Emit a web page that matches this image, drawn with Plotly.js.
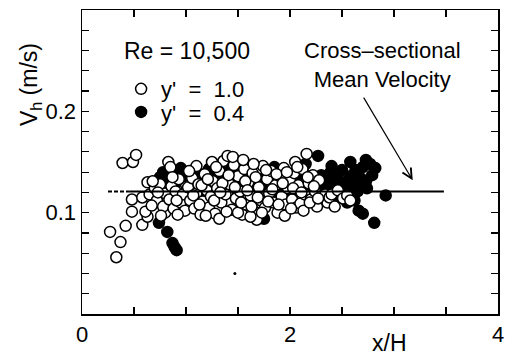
<!DOCTYPE html>
<html>
<head>
<meta charset="utf-8">
<script src="https://cdn.plot.ly/plotly-3.0.1.min.js"></script>
<style>html,body{margin:0;padding:0;background:#fff;}#chart{width:507px;height:356px;}</style>
</head>
<body>
<div id="chart"></div>
<script>
// y' = 1.0 (open circles)
const openX = [0.27,0.37,0.33,0.42,0.39,0.49,0.52,0.48,0.48,0.58,
  0.58,0.63,0.61,0.63,0.83,0.80,0.65,0.70,0.72,0.75,
  0.78,0.80,0.84,0.86,0.88,0.90,0.93,0.95,0.97,0.99,
  0.68,0.76,0.92,1.02,1.04,1.06,1.08,1.10,1.12,1.14,
  1.16,1.18,1.20,1.22,1.24,1.26,1.28,1.30,1.32,1.34,
  1.36,1.38,1.40,1.42,1.44,1.46,1.48,1.50,1.52,1.54,
  1.56,1.58,1.60,1.62,1.64,1.66,1.68,1.70,1.72,1.74,
  1.76,1.78,1.80,1.82,1.84,1.86,1.88,1.90,1.92,1.94,
  1.96,1.98,2.00,2.02,2.04,2.06,2.08,2.10,2.12,2.14,
  2.16,2.18,2.20,2.22,2.24,2.26,2.28,2.30,2.34,2.36,
  2.38,2.40,2.43,2.46,2.51,2.55,2.58,1.10,1.25,1.45,
  1.55,1.65,0.85,1.32,1.50,1.15,1.35,1.62,1.95,2.05,
  1.03,1.07,1.13,1.19,1.21,1.27,1.29,1.33,1.39,1.41,
  1.47,1.53,1.57,1.59,1.63,1.67,1.69,1.73,1.77,1.79,
  1.83,1.87,1.89,1.93,1.97,2.01,2.03,2.07,2.11,2.13,
  2.17,2.19,2.23,2.27,0.91,0.87,0.73,0.67];
const openY = [0.081,0.071,0.056,0.087,0.149,0.150,0.157,0.113,0.101,0.088,
  0.115,0.096,0.101,0.130,0.150,0.100,0.118,0.124,0.112,0.128,
  0.106,0.119,0.113,0.126,0.104,0.121,0.133,0.110,0.118,0.102,
  0.131,0.097,0.098,0.125,0.112,0.134,0.104,0.119,0.128,0.098,
  0.111,0.138,0.122,0.105,0.116,0.131,0.099,0.124,0.141,0.110,
  0.151,0.118,0.156,0.128,0.103,0.147,0.114,0.136,0.121,0.098,
  0.143,0.108,0.130,0.117,0.139,0.101,0.093,0.125,0.112,0.146,
  0.105,0.133,0.119,0.141,0.110,0.127,0.100,0.136,0.116,0.144,
  0.108,0.124,0.132,0.113,0.139,0.105,0.127,0.109,0.143,0.118,
  0.158,0.129,0.113,0.137,0.121,0.106,0.132,0.116,0.118,0.110,
  0.115,0.118,0.106,0.122,0.114,0.117,0.112,0.146,0.150,0.155,
  0.152,0.148,0.145,0.094,0.100,0.127,0.129,0.096,0.097,0.150,
  0.141,0.117,0.108,0.097,0.133,0.112,0.145,0.120,0.101,0.137,
  0.125,0.110,0.131,0.122,0.106,0.135,0.115,0.100,0.142,0.111,
  0.123,0.138,0.108,0.129,0.140,0.104,0.124,0.145,0.120,0.102,
  0.135,0.110,0.126,0.114,0.112,0.135,0.120,0.107];

// y' = 0.4 (filled circles)
const filledX = [0.74,0.82,0.87,0.89,0.91,0.70,0.75,0.78,0.82,0.86,
  0.90,0.95,0.98,1.02,1.07,1.10,1.14,1.18,1.22,1.25,
  1.28,1.32,1.36,1.40,1.44,1.48,1.52,1.56,1.60,1.64,
  1.68,1.72,1.75,1.78,1.82,1.86,1.90,1.94,1.98,2.02,
  2.06,2.10,2.14,2.18,2.22,2.27,2.26,2.30,2.33,2.36,
  2.39,2.42,2.45,2.48,2.50,2.52,2.55,2.58,2.58,2.61,
  2.63,2.65,2.66,2.68,2.70,2.70,2.72,2.73,2.73,2.74,
  2.77,2.79,2.81,2.82,2.92,2.45,2.35,2.20,2.00,1.50,
  1.20,1.00,2.62,2.55,2.40,1.40,1.60,1.85,2.40,2.15,
  0.80,0.92];
const filledY = [0.090,0.081,0.070,0.066,0.063,0.128,0.135,0.140,0.133,0.143,
  0.129,0.144,0.136,0.140,0.141,0.132,0.138,0.130,0.143,0.147,
  0.135,0.128,0.138,0.132,0.126,0.140,0.131,0.124,0.136,0.128,
  0.121,0.133,0.094,0.127,0.135,0.120,0.130,0.125,0.137,0.122,
  0.131,0.126,0.138,0.124,0.133,0.156,0.128,0.137,0.122,0.131,
  0.140,0.126,0.135,0.120,0.142,0.130,0.124,0.150,0.136,0.128,
  0.142,0.121,0.102,0.134,0.099,0.145,0.127,0.152,0.131,0.124,
  0.148,0.137,0.090,0.144,0.117,0.115,0.117,0.118,0.116,0.118,
  0.120,0.122,0.112,0.110,0.112,0.144,0.145,0.145,0.146,0.148,
  0.127,0.137];

// stray dot
const dotX = [1.47];
const dotY = [0.040];

// cross-sectional mean velocity (dashed lead-in, then solid)
const meanDashX = [0.25, 0.46];
const meanDashY = [0.121, 0.121];
const meanX = [0.46, 3.48];
const meanY = [0.121, 0.121];

const xTickVals = [0,0.5,1,1.5,2,2.5,3,3.5,4];
const xTickText = ['0','','','','2','','','','4'];
const yTickVals = [0.02,0.04,0.06,0.08,0.1,0.12,0.14,0.16,0.18,0.2,0.22,0.24,0.26,0.28];
const yTickText = ['','','','','0.1','','','','','0.2','','','',''];

const FONT = 'Liberation Sans, Arial, Helvetica, sans-serif';

const traces = [
  {x: filledX, y: filledY, type: 'scatter', mode: 'markers', name: "y' \u00a0=\u00a0 0.4", legend: 'legend2',
   marker: {symbol: 'circle', size: 11, color: '#000', line: {color: '#000', width: 1.5}}},
  {x: openX, y: openY, type: 'scatter', mode: 'markers', name: "y' \u00a0=\u00a0 1.0", legend: 'legend',
   marker: {symbol: 'circle', size: 11, color: '#fff', line: {color: '#000', width: 1.5}}},
  {x: dotX, y: dotY, type: 'scatter', mode: 'markers', showlegend: false,
   marker: {size: 3, color: '#000'}},
  {x: meanDashX, y: meanDashY, type: 'scatter', mode: 'lines', showlegend: false,
   line: {color: '#000', width: 2, dash: '4px,2px'}},
  {x: meanX, y: meanY, type: 'scatter', mode: 'lines', showlegend: false,
   line: {color: '#000', width: 2}}
];

const axisCommon = {
  showgrid: false, zeroline: false, showline: true, linecolor: '#000', linewidth: 1.5,
  mirror: 'ticks', ticks: 'inside', ticklen: 7, tickwidth: 1.2, tickcolor: '#000',
  tickfont: {family: FONT, size: 22, color: '#000'}, tickmode: 'array'
};

const legendCommon = {
  xanchor: 'left', yanchor: 'middle', bgcolor: 'rgba(0,0,0,0)', borderwidth: 0,
  font: {family: FONT, size: 22, color: '#000'}, itemwidth: 30
};

const layout = {
  width: 507, height: 356,
  margin: {l: 82, r: 9, t: 10, b: 42},
  paper_bgcolor: '#fff', plot_bgcolor: '#fff',
  font: {family: FONT, color: '#000'},
  xaxis: Object.assign({}, axisCommon, {range: [0, 4], tickvals: xTickVals, ticktext: xTickText}),
  yaxis: Object.assign({}, axisCommon, {range: [0, 0.3], tickvals: yTickVals, ticktext: yTickText}),
  showlegend: true,
  legend: Object.assign({}, legendCommon, {x: 0.094, y: 0.740}),
  legend2: Object.assign({}, legendCommon, {x: 0.094, y: 0.664}),
  annotations: [
    {xref: 'paper', yref: 'paper', x: -0.125, y: 0.753, xanchor: 'center', yanchor: 'middle',
     textangle: -90, showarrow: false,
     text: 'V<sub>h</sub> (m/s)', font: {family: FONT, size: 23, color: '#000'}},
    {xref: 'paper', yref: 'paper', x: 0.738, y: -0.095, xanchor: 'center', yanchor: 'middle',
     showarrow: false, text: 'x/H', font: {family: FONT, size: 23, color: '#000'}},
    {xref: 'paper', yref: 'paper', x: 0.096, y: 0.865, xanchor: 'left', yanchor: 'middle',
     showarrow: false, text: 'Re = 10,500', font: {family: FONT, size: 23, color: '#000'}},
    {xref: 'x', yref: 'y', x: 2.885, y: 0.2455, xanchor: 'center', yanchor: 'middle', showarrow: false,
     text: 'Cross\u2013sectional<br>Mean Velocity', font: {family: FONT, size: 22, color: '#000'}},
    {xref: 'x', yref: 'y', x: 3.18, y: 0.132, axref: 'x', ayref: 'y', ax: 2.70, ay: 0.215,
     text: '', showarrow: true, arrowhead: 5, arrowsize: 1.6, arrowwidth: 1.2, arrowcolor: '#000'}
  ]
};

Plotly.newPlot('chart', traces, layout, {displayModeBar: false, staticPlot: true});
</script>
</body>
</html>
